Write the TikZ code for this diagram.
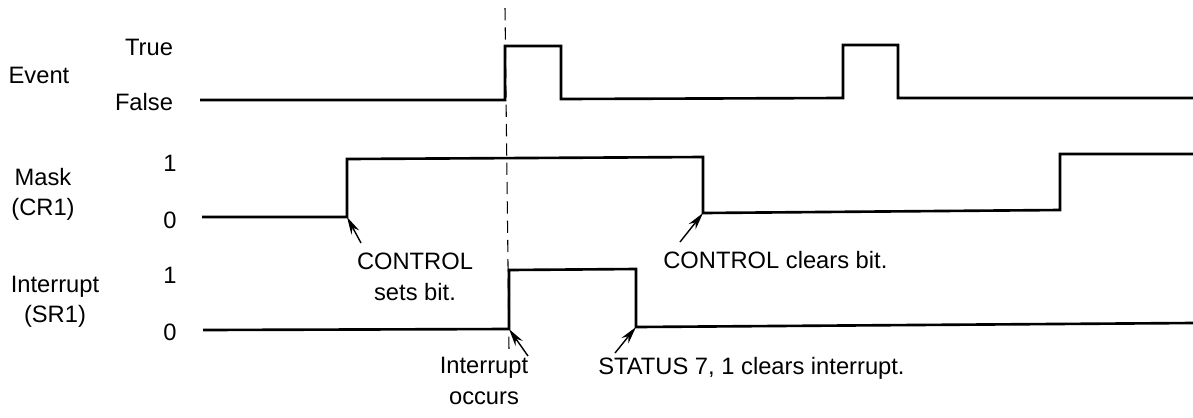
\documentclass[tikz,border=0pt]{standalone}
\usepackage{fontspec}
\setmainfont{Liberation Sans}
\usetikzlibrary{arrows.meta}
\begin{document}
\begin{tikzpicture}[x=0.02cm,y=-0.02cm,
  lbl/.style={inner sep=0pt,font=\fontsize{13.5}{15}\selectfont,align=center},
  sig/.style={line width=1.5pt,line join=miter},
  ptr/.style={line width=0.8pt,-{Stealth[length=10pt,width=5pt]}},
  guide/.style={line width=0.6pt,dash pattern=on 7pt off 4pt}]
\useasboundingbox (0,0) rectangle (1193,417);
% left labels
\node[lbl] (lEvent) at (39,75) {Event};
\node[lbl] (lTrue) at (149,47) {True};
\node[lbl] (lFalse) at (144,102) {False};
\node[lbl] (lMask) at (43,194) {Mask\\[2pt](CR1)};
\node[lbl] (lM1) at (170,163) {1};
\node[lbl] (lM0) at (170,220) {0};
\node[lbl] (lInt) at (55,302) {Interrupt\\[2pt](SR1)};
\node[lbl] (lI1) at (170,275) {1};
\node[lbl] (lI0) at (170,332) {0};
% dashed guide
\coordinate (gTop) at (505,8);
\coordinate (gBot) at (509,350);
\draw[guide] (gTop) -- (gBot);
% Event waveform
\coordinate (e0) at (200,100);
\coordinate (e1) at (505,100);
\coordinate (e2) at (505,46);
\coordinate (e3) at (561,46);
\coordinate (e4) at (561,99);
\coordinate (e5) at (843,98);
\coordinate (e6) at (843,45);
\coordinate (e7) at (898,45);
\coordinate (e8) at (898,98);
\coordinate (e9) at (1193,98);
\draw[sig] (e0) -- (e1) -- (e2) -- (e3) -- (e4) -- (e5) -- (e6) -- (e7) -- (e8) -- (e9);
% Mask waveform
\coordinate (m0) at (202,217);
\coordinate (m1) at (347,217);
\coordinate (m2) at (347,159);
\coordinate (m3) at (703,157);
\coordinate (m4) at (703,213);
\coordinate (m5) at (1060,210);
\coordinate (m6) at (1060,154);
\coordinate (m7) at (1193,154);
\draw[sig] (m0) -- (m1) -- (m2) -- (m3) -- (m4) -- (m5) -- (m6) -- (m7);
% Interrupt waveform
\coordinate (i0) at (203,330);
\coordinate (i1) at (509,329);
\coordinate (i2) at (509,270);
\coordinate (i3) at (636,269);
\coordinate (i4) at (636,327);
\coordinate (i5) at (1193,323);
\draw[sig] (i0) -- (i1) -- (i2) -- (i3) -- (i4) -- (i5);
% annotations
\node[lbl] (aSet) at (415,277) {CONTROL\\[3pt]sets bit.};
\coordinate (aSetT) at (361,243);
\draw[ptr] (aSetT) -- (m1);
\node[lbl,anchor=west] (aClr) at (663,260) {CONTROL clears bit.};
\coordinate (aClrT) at (680,242);
\draw[ptr] (aClrT) -- (m4);
\node[lbl] (aOcc) at (484,381) {Interrupt\\[3pt]occurs};
\coordinate (aOccT) at (528,356);
\draw[ptr] (aOccT) -- (i1);
\node[lbl,anchor=west] (aStat) at (598,368) {STATUS 7, 1 clears interrupt.};
\coordinate (aStatT) at (615,353);
\draw[ptr] (aStatT) -- (i4);
\end{tikzpicture}
\end{document}
